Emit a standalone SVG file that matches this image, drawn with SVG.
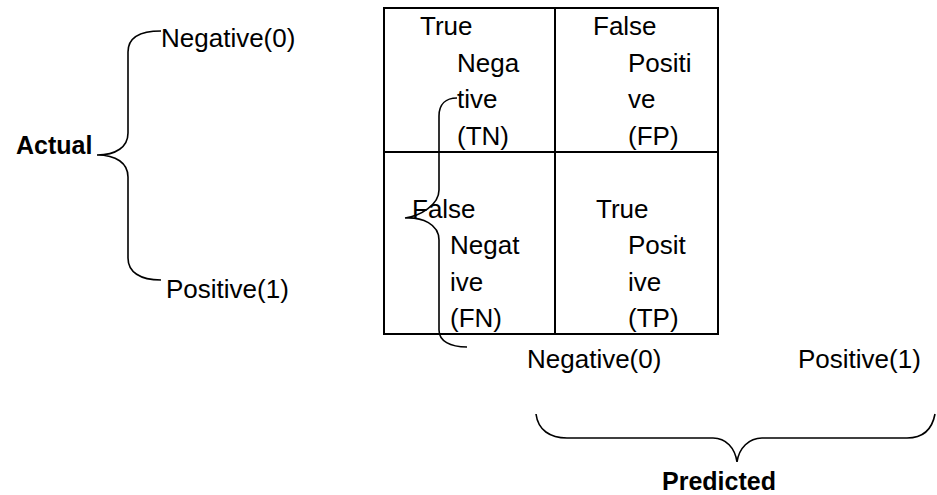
<svg xmlns="http://www.w3.org/2000/svg" width="937" height="495" viewBox="0 0 937 495">
<style>
text{font-family:"Liberation Sans",Arial,sans-serif;font-size:26px;fill:#000}
.b{font-weight:bold;font-size:25px}
.grid{fill:none;stroke:#000;stroke-width:2}
.brace{fill:none;stroke:#000;stroke-width:1.6}
</style>
<rect width="937" height="495" fill="#fff"/>
<g id="matrix">
<rect class="grid" x="384" y="8" width="334" height="326"/>
<line class="grid" x1="555" y1="8" x2="555" y2="334"/>
<line class="grid" x1="384" y1="152" x2="718" y2="152"/>
</g>
<g id="tn">
<text x="420" y="35">True</text>
<text x="457" y="72">Nega</text>
<text x="457" y="108">tive</text>
<text x="457" y="145">(TN)</text>
</g>
<g id="fp">
<text x="593" y="35">False</text>
<text x="628" y="72">Positi</text>
<text x="628" y="108">ve</text>
<text x="628" y="145">(FP)</text>
</g>
<g id="fn">
<text x="412" y="218">False</text>
<text x="450" y="254">Negat</text>
<text x="450" y="291">ive</text>
<text x="450" y="327">(FN)</text>
</g>
<g id="tp">
<text x="596" y="218">True</text>
<text x="628" y="254">Posit</text>
<text x="628" y="291">ive</text>
<text x="628" y="327">(TP)</text>
</g>
<g id="actual"><text class="b" x="16" y="154">Actual</text></g>
<g id="actual-neg"><text x="161" y="47">Negative(0)</text></g>
<g id="actual-pos"><text x="166" y="298">Positive(1)</text></g>
<g id="pred-neg"><text x="527" y="368">Negative(0)</text></g>
<g id="pred-pos"><text x="798" y="368">Positive(1)</text></g>
<g id="predicted"><text class="b" x="662" y="490">Predicted</text></g>
<g id="connectors">
<path class="brace" d="M161,31 C140,31 128,38 128,52 L128,133 C128,147 116,155 97,155 C116,155 128,163 128,177 L128,258 C128,272 140,280 161,280"/>
<path class="brace" d="M457,98 C446,98 439,104 439,116 L439,190 C439,205 420,216 405,218 C422,217 439,224 439,240 L439,330 C439,341 450,347 467,347"/>
<path class="brace" d="M536,414 C538,430 550,438 567,438 L713,438 C726,438 735,448 737,462 C739,448 749,438 762,438 L907,438 C922,438 932,430 935,414"/>
</g>
</svg>
